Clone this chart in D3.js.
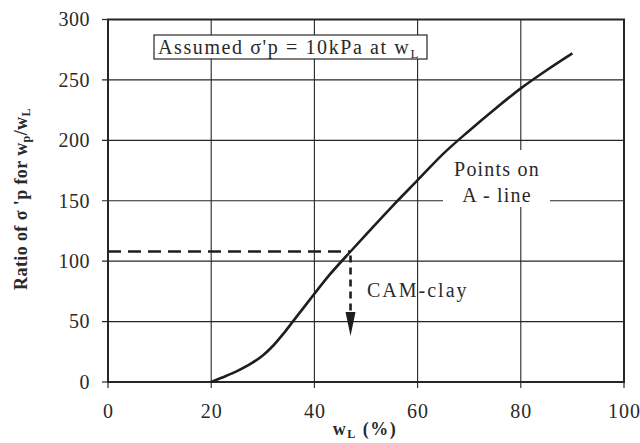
<!DOCTYPE html>
<html>
<head>
<meta charset="utf-8">
<script src="https://cdn.jsdelivr.net/npm/d3@7"></script>
<style>
  html, body { margin: 0; padding: 0; background: #fff; }
  svg { display: block; }
</style>
</head>
<body>
<svg id="chart" width="640" height="443"></svg>
<script>
// Liquid limit w_L (%) and the ratio of sigma'p between w_P and w_L along the A-line
const wL = [20, 22, 25, 28, 30, 32, 34, 36, 38, 40, 43, 47, 50, 55, 60, 65, 70, 75, 80, 85, 90];
const ratio = [0, 3.5, 9, 16, 22, 30, 40, 51, 62, 73, 89, 108, 122, 145, 167, 189, 208, 226, 243, 258, 272];

// CAM-clay reference point and where its arrow ends
const camX = [47];
const camY = [108];
const camArrowEnd = [38];

const xTicks = [0, 20, 40, 60, 80, 100];
const yTicks = [0, 50, 100, 150, 200, 250, 300];

const serif = "'Liberation Serif', 'Times New Roman', Times, serif";

const svg = d3.select("#chart");
const plotL = 108, plotR = 624, plotT = 19.5, plotB = 382;

const x = d3.scaleLinear().domain([0, 100]).range([plotL, plotR]);
const y = d3.scaleLinear().domain([0, 300]).range([plotB, plotT]);

const ink = "#262626";
const txt = "#2a2a2a";

// grid
const grid = svg.append("g");
grid.selectAll("line.v").data(xTicks.slice(1, -1)).join("line")
  .attr("x1", d => x(d)).attr("x2", d => x(d))
  .attr("y1", plotT).attr("y2", plotB + 6)
  .attr("stroke", ink).attr("stroke-width", 1.1);
grid.selectAll("line.h").data(yTicks.slice(1, -1)).join("line")
  .attr("x1", plotL - 6).attr("x2", plotR)
  .attr("y1", d => y(d)).attr("y2", d => y(d))
  .attr("stroke", ink).attr("stroke-width", 1.1);

// outward tick stubs at the frame corners
svg.append("line").attr("x1", plotL - 6).attr("x2", plotL).attr("y1", y(0)).attr("y2", y(0)).attr("stroke", ink).attr("stroke-width", 1.2);
svg.append("line").attr("x1", plotL - 6).attr("x2", plotL).attr("y1", y(300)).attr("y2", y(300)).attr("stroke", ink).attr("stroke-width", 1.2);
svg.append("line").attr("x1", x(0)).attr("x2", x(0)).attr("y1", plotB).attr("y2", plotB + 6).attr("stroke", ink).attr("stroke-width", 1.2);
svg.append("line").attr("x1", x(100)).attr("x2", x(100)).attr("y1", plotB).attr("y2", plotB + 6).attr("stroke", ink).attr("stroke-width", 1.2);

// frame
svg.append("rect")
  .attr("x", plotL).attr("y", plotT)
  .attr("width", plotR - plotL).attr("height", plotB - plotT)
  .attr("fill", "none").attr("stroke", ink).attr("stroke-width", 2);

// tick labels
const xAxis = d3.axisBottom(x).tickValues(xTicks).tickSize(0).tickPadding(22);
svg.append("g").attr("transform", `translate(0,${plotB})`).call(xAxis)
  .attr("font-family", serif).attr("font-size", 20)
  .call(g => g.select(".domain").remove())
  .selectAll("text").attr("fill", txt).attr("letter-spacing", 1);

const yAxis = d3.axisLeft(y).tickValues(yTicks).tickSize(0).tickPadding(18);
svg.append("g").attr("transform", `translate(${plotL},0)`).call(yAxis)
  .attr("font-family", serif).attr("font-size", 20)
  .call(g => g.select(".domain").remove())
  .selectAll("text").attr("fill", txt).attr("letter-spacing", 0.5);

// blank patch behind "Points on A - line"
svg.append("rect").attr("x", 443).attr("y", 150).attr("width", 107).attr("height", 57).attr("fill", "#fff");

// A-line curve
const line = d3.line().x((d, i) => x(wL[i])).y(d => y(d)).curve(d3.curveMonotoneX);
svg.append("path").datum(ratio)
  .attr("d", line)
  .attr("fill", "none").attr("stroke", "#1e1e1e").attr("stroke-width", 2.6);

// CAM-clay dashed guide with arrow
svg.append("line")
  .attr("x1", plotL).attr("x2", x(camX[0]))
  .attr("y1", y(camY[0])).attr("y2", y(camY[0]))
  .attr("stroke", "#1e1e1e").attr("stroke-width", 2.6).attr("stroke-dasharray", "13,7");
svg.append("line")
  .attr("x1", x(camX[0])).attr("x2", x(camX[0]))
  .attr("y1", y(camY[0]) + 4).attr("y2", y(camArrowEnd[0]) - 20)
  .attr("stroke", "#1e1e1e").attr("stroke-width", 2.6).attr("stroke-dasharray", "7,5");
const ax = x(camX[0]), ay = y(camArrowEnd[0]);
svg.append("path")
  .attr("d", `M${ax - 5},${ay - 24} L${ax + 5},${ay - 24} L${ax},${ay} Z`)
  .attr("fill", "#1e1e1e");

// annotations
const label = (xp, yp, s, anchor, sp) => svg.append("text")
  .attr("x", xp).attr("y", yp).attr("font-family", serif).attr("font-size", 20)
  .attr("fill", txt).attr("text-anchor", anchor || "start").attr("letter-spacing", sp).text(s);
label(367, 297, "CAM-clay", "start", 2);
label(497, 176, "Points  on", "middle", 1.2);
label(497, 202, "A - line", "middle", 1.2);

// assumption box
svg.append("rect").attr("x", 154).attr("y", 35).attr("width", 273).attr("height", 24)
  .attr("fill", "#fff").attr("stroke", ink).attr("stroke-width", 1.2);
const at = svg.append("text").attr("x", 158).attr("y", 53.5).attr("font-family", serif)
  .attr("font-size", 20).attr("fill", txt).attr("letter-spacing", 1.6);
at.append("tspan").text("Assumed σ'p = 10kPa at w");
at.append("tspan").attr("font-size", 13).attr("dy", 4).text("L");

// axis titles
const xt = svg.append("text").attr("x", 365).attr("y", 435).attr("text-anchor", "middle")
  .attr("font-family", serif).attr("fill", txt).attr("font-size", 18).attr("font-weight", "bold")
  .attr("letter-spacing", 1.5);
xt.append("tspan").text("w");
xt.append("tspan").attr("font-size", 12).attr("dy", 3).text("L");
xt.append("tspan").attr("dy", -3).text(" (%)");

const yt = svg.append("text").attr("transform", "translate(27,199) rotate(-90)")
  .attr("text-anchor", "middle").attr("font-family", serif).attr("fill", txt)
  .attr("font-size", 18).attr("font-weight", "bold").attr("letter-spacing", 0.4);
yt.append("tspan").text("Ratio of σ 'p for w");
yt.append("tspan").attr("font-size", 12).attr("dy", 3).text("p");
yt.append("tspan").attr("dy", -3).text("/w");
yt.append("tspan").attr("font-size", 12).attr("dy", 3).text("L");
</script>
</body>
</html>
